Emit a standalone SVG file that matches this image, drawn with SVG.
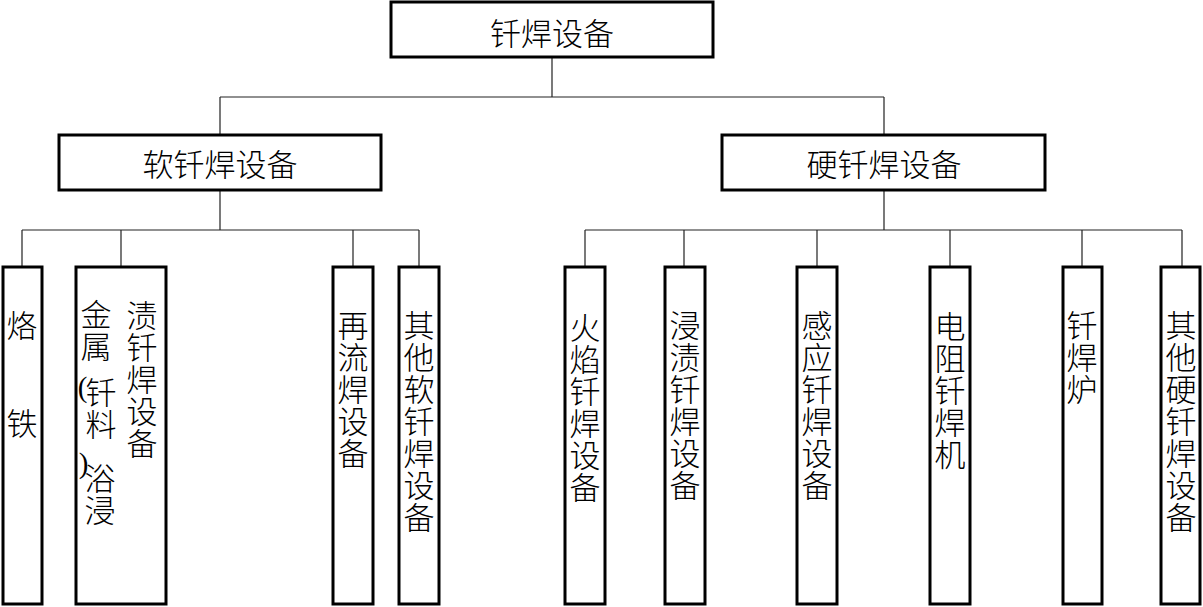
<svg xmlns="http://www.w3.org/2000/svg" width="1203" height="607" viewBox="0 0 1203 607">
<style>
.box{fill:#fff;stroke:#000;stroke-width:3}
.ln{fill:none;stroke:#222;stroke-width:1.2}
text{font-family:"Noto Sans CJK SC","Liberation Sans",sans-serif;font-size:31px;font-weight:300;fill:#000;text-anchor:middle}
.v{writing-mode:vertical-rl;text-anchor:start;letter-spacing:1px}
.par{font-family:"Liberation Serif",serif;font-size:29px;font-weight:normal;text-anchor:end}
</style>
<rect width="1203" height="607" fill="#fff"/>
<g id="connectors">
<path class="ln" d="M552 58V97M220 97H884M220 97V134M884 97V134"/>
<path class="ln" d="M220 191V230M22 230H419M22 230V266M121 230V266M353 230V266M419 230V266"/>
<path class="ln" d="M884 191V230M585 230H1182M585 230V266M684 230V266M817 230V266M950 230V266M1082 230V266M1182 230V266"/>
</g>
<g id="root"><rect class="box" x="391" y="2" width="322" height="55"/><text x="552" y="45">钎焊设备</text></g>
<g id="soft"><rect class="box" x="59" y="135" width="322" height="55"/><text x="220" y="176">软钎焊设备</text></g>
<g id="hard"><rect class="box" x="722" y="135" width="323" height="55"/><text x="884" y="176">硬钎焊设备</text></g>
<g id="n1"><rect class="box" x="3" y="267" width="39" height="337"/>
<text class="v" x="22" y="310" style="letter-spacing:67px">烙铁</text></g>
<g id="n2"><rect class="box" x="76" y="267" width="90" height="337"/>
<text class="v" x="96" y="299">金属</text>
<text class="par" x="87.5" y="397">(</text>
<text class="v" x="101" y="377">钎料</text>
<text class="par" x="88.5" y="473">)</text>
<text class="v" x="100" y="463">浴浸</text>
<text class="v" x="142" y="300">渍钎焊设备</text></g>
<g id="n3"><rect class="box" x="333" y="267" width="40" height="337"/>
<text class="v" x="353" y="310">再流焊设备</text></g>
<g id="n4"><rect class="box" x="399" y="267" width="40" height="337"/>
<text class="v" x="419" y="310">其他软钎焊设备</text></g>
<g id="n5"><rect class="box" x="565" y="267" width="40" height="337"/>
<text class="v" x="585" y="312">火焰钎焊设备</text></g>
<g id="n6"><rect class="box" x="665" y="267" width="40" height="337"/>
<text class="v" x="685" y="310">浸渍钎焊设备</text></g>
<g id="n7"><rect class="box" x="797" y="267" width="40" height="337"/>
<text class="v" x="817" y="310">感应钎焊设备</text></g>
<g id="n8"><rect class="box" x="930" y="267" width="40" height="337"/>
<text class="v" x="950" y="311">电阻钎焊机</text></g>
<g id="n9"><rect class="box" x="1063" y="267" width="39" height="337"/>
<text class="v" x="1082" y="310">钎焊炉</text></g>
<g id="n10"><rect class="box" x="1161" y="267" width="39" height="337"/>
<text class="v" x="1181" y="310">其他硬钎焊设备</text></g>
</svg>
